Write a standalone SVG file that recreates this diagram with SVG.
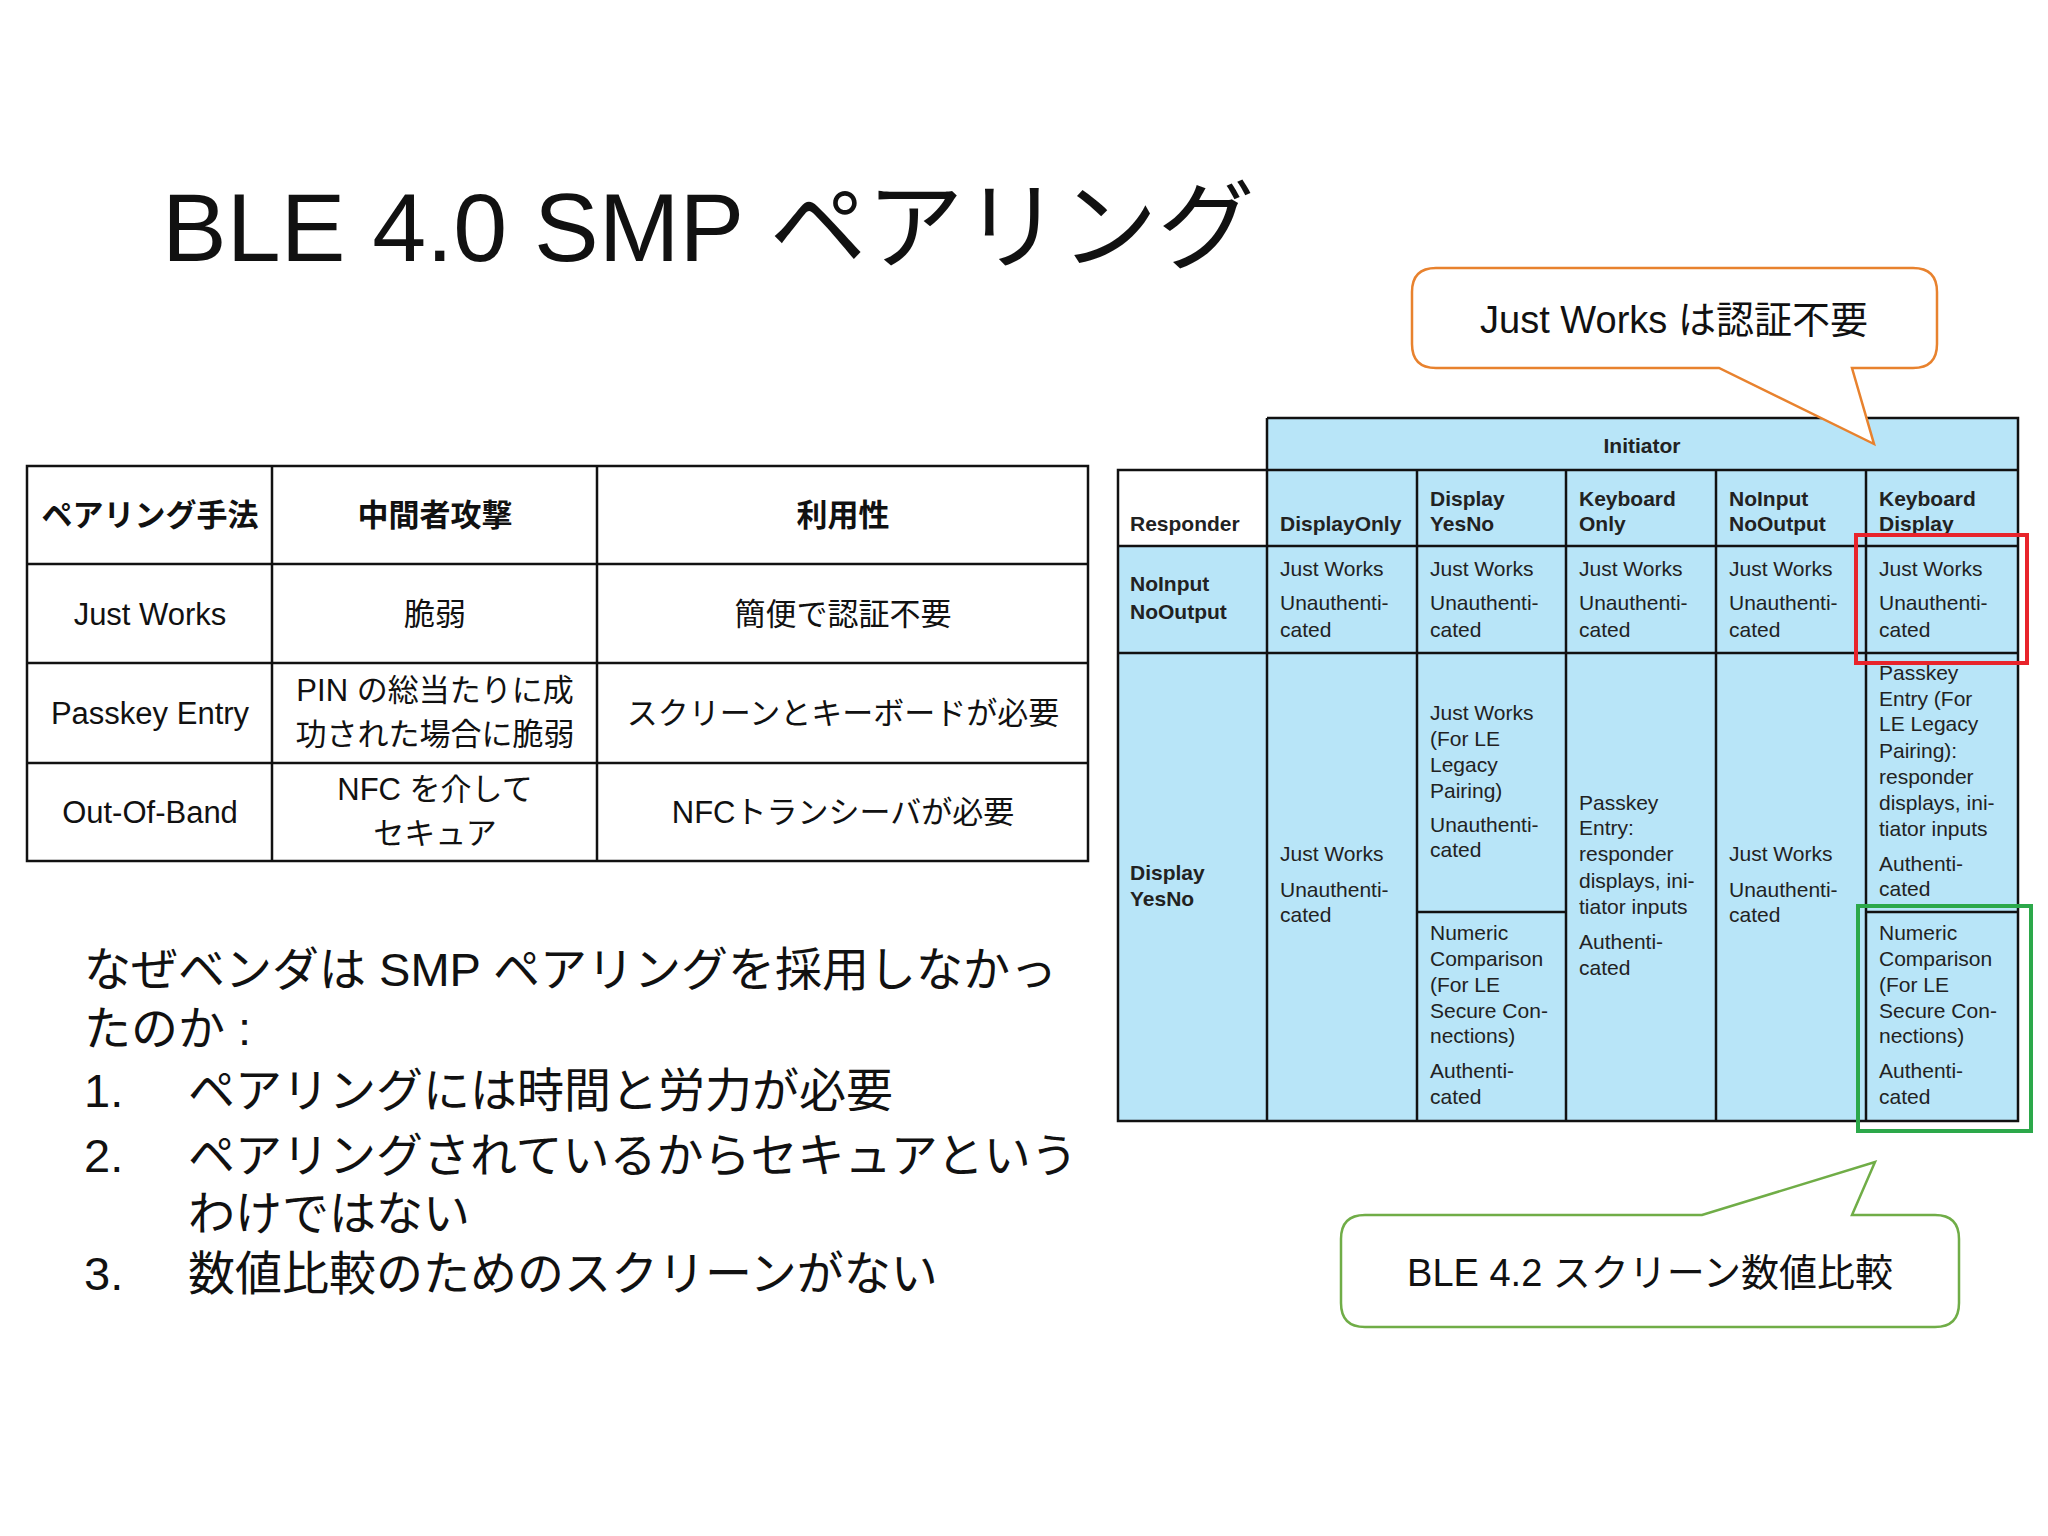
<svg xmlns="http://www.w3.org/2000/svg" width="2048" height="1536" viewBox="0 0 2048 1536">
<style>
.j{font-family:"Liberation Sans","Noto Sans CJK JP",sans-serif;fill:#111}
.t{font-family:"Liberation Sans",sans-serif;font-size:21px;fill:#222}
.b{font-weight:bold}
.g{stroke:#111;stroke-width:2.5;fill:none}
.c{fill:#b8e5f8}
</style>
<rect width="2048" height="1536" fill="#fff"/>
<text class="j" x="162" y="261" font-size="97">BLE 4.0 SMP ペアリング</text>
<g id="left-table">
<rect x="27" y="466" width="1061" height="395" class="g" stroke-width="3"/>
<path class="g" stroke-width="3" d="M272 466V861M597 466V861M27 564H1088M27 663H1088M27 763H1088"/>
<g class="j" font-size="31" text-anchor="middle">
<text x="150" y="526" class="j b">ペアリング手法</text>
<text x="435" y="526" class="j b">中間者攻撃</text>
<text x="843" y="526" class="j b">利用性</text>
<text x="150" y="625">Just Works</text>
<text x="435" y="625">脆弱</text>
<text x="843" y="625">簡便で認証不要</text>
<text x="150" y="724">Passkey Entry</text>
<text x="435" y="701">PIN の総当たりに成</text>
<text x="435" y="745">功された場合に脆弱</text>
<text x="843" y="724">スクリーンとキーボードが必要</text>
<text x="150" y="823">Out-Of-Band</text>
<text x="435" y="800">NFC を介して</text>
<text x="435" y="844">セキュア</text>
<text x="843" y="823">NFCトランシーバが必要</text>
</g>
</g>
<g id="right-table">
<rect class="c" x="1267" y="418" width="751" height="703"/>
<rect class="c" x="1118" y="546" width="149" height="575"/>
<path class="g" d="M1267 418H2018V1121H1118V470H2018M1118 546H2018M1118 653H2018M1267 418V1121M1417 470V1121M1566 470V1121M1716 470V1121M1866 470V1121M1417 912H1566M1866 912H2018"/>
<text class="t b" x="1642" y="453" text-anchor="middle">Initiator</text>
<g class="t b">
<text x="1130" y="531">Responder</text>
<text x="1280" y="531">DisplayOnly</text>
<text x="1430" y="506">Display</text><text x="1430" y="531">YesNo</text>
<text x="1579" y="506">Keyboard</text><text x="1579" y="531">Only</text>
<text x="1729" y="506">NoInput</text><text x="1729" y="531">NoOutput</text>
<text x="1879" y="506">Keyboard</text><text x="1879" y="531">Display</text>
<text x="1130" y="591">NoInput</text><text x="1130" y="619">NoOutput</text>
<text x="1130" y="880">Display</text><text x="1130" y="906">YesNo</text>
</g>
<g class="t">
<text x="1280" y="576">Just Works</text><text x="1280" y="610">Unauthenti-</text><text x="1280" y="637">cated</text>
<text x="1430" y="576">Just Works</text><text x="1430" y="610">Unauthenti-</text><text x="1430" y="637">cated</text>
<text x="1579" y="576">Just Works</text><text x="1579" y="610">Unauthenti-</text><text x="1579" y="637">cated</text>
<text x="1729" y="576">Just Works</text><text x="1729" y="610">Unauthenti-</text><text x="1729" y="637">cated</text>
<text x="1879" y="576">Just Works</text><text x="1879" y="610">Unauthenti-</text><text x="1879" y="637">cated</text>
<text x="1280" y="861">Just Works</text><text x="1280" y="897">Unauthenti-</text><text x="1280" y="922">cated</text>
<text x="1729" y="861">Just Works</text><text x="1729" y="897">Unauthenti-</text><text x="1729" y="922">cated</text>
<text x="1430" y="720">Just Works</text><text x="1430" y="746">(For LE</text><text x="1430" y="772">Legacy</text><text x="1430" y="798">Pairing)</text><text x="1430" y="832">Unauthenti-</text><text x="1430" y="857">cated</text>
<text x="1430" y="940">Numeric</text><text x="1430" y="966">Comparison</text><text x="1430" y="992">(For LE</text><text x="1430" y="1018">Secure Con-</text><text x="1430" y="1043">nections)</text><text x="1430" y="1078">Authenti-</text><text x="1430" y="1104">cated</text>
<text x="1579" y="810">Passkey</text><text x="1579" y="835">Entry:</text><text x="1579" y="861">responder</text><text x="1579" y="888">displays, ini-</text><text x="1579" y="914">tiator inputs</text><text x="1579" y="949">Authenti-</text><text x="1579" y="975">cated</text>
<text x="1879" y="680">Passkey</text><text x="1879" y="706">Entry  (For</text><text x="1879" y="731">LE Legacy</text><text x="1879" y="758">Pairing):</text><text x="1879" y="784">responder</text><text x="1879" y="810">displays, ini-</text><text x="1879" y="836">tiator inputs</text><text x="1879" y="871">Authenti-</text><text x="1879" y="896">cated</text>
<text x="1879" y="940">Numeric</text><text x="1879" y="966">Comparison</text><text x="1879" y="992">(For LE</text><text x="1879" y="1018">Secure Con-</text><text x="1879" y="1043">nections)</text><text x="1879" y="1078">Authenti-</text><text x="1879" y="1104">cated</text>
</g>
<rect x="1856" y="535" width="171" height="128" fill="none" stroke="#e8242b" stroke-width="4"/>
<rect x="1858" y="906" width="173" height="225" fill="none" stroke="#2ca84a" stroke-width="4"/>
</g>
<g id="callout1">
<path d="M1436 268H1913Q1937 268 1937 292V344Q1937 368 1913 368H1852L1874 444L1719 368H1436Q1412 368 1412 344V292Q1412 268 1436 268Z" fill="#fff" stroke="#e8822e" stroke-width="2.5"/>
<text class="j" x="1674" y="333" font-size="38" text-anchor="middle">Just Works は認証不要</text>
</g>
<g id="callout2">
<path d="M1365 1215H1702L1875 1162L1852 1215H1935Q1959 1215 1959 1239V1303Q1959 1327 1935 1327H1365Q1341 1327 1341 1303V1239Q1341 1215 1365 1215Z" fill="#fff" stroke="#70ad47" stroke-width="2.5"/>
<text class="j" x="1650" y="1286" font-size="38" text-anchor="middle">BLE 4.2 スクリーン数値比較</text>
</g>
<g class="j" font-size="47">
<text x="84" y="986">なぜベンダは SMP ペアリングを採用しなかっ</text>
<text x="84" y="1045">たのか :</text>
<text x="84" y="1107">1.</text><text x="188" y="1107">ペアリングには時間と労力が必要</text>
<text x="84" y="1172">2.</text><text x="188" y="1172">ペアリングされているからセキュアという</text>
<text x="188" y="1230">わけではない</text>
<text x="84" y="1290">3.</text><text x="188" y="1290">数値比較のためのスクリーンがない</text>
</g>
</svg>
